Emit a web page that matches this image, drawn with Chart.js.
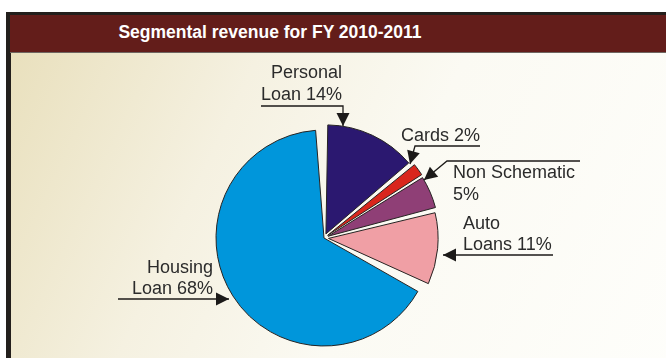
<!DOCTYPE html>
<html>
<head>
<meta charset="utf-8">
<title>Segmental revenue</title>
<script src="https://cdn.jsdelivr.net/npm/chart.js@4.4.1/dist/chart.umd.min.js"></script>
<style>
  html, body { margin: 0; padding: 0; }
  body {
    width: 666px; height: 358px; overflow: hidden; position: relative;
    background: #fff;
    font-family: "Liberation Sans", Arial, sans-serif;
  }
  .frame {
    position: absolute; left: 6px; top: 12px; width: 680px; height: 360px;
    background: #231f1c;
  }
  .title-bar {
    position: absolute; left: 10px; top: 15px; width: 680px; height: 37px;
    background: #631d1a;
    border-bottom: 1px solid #6f6661;
  }
  .title-bar span {
    position: absolute; left: 260px; top: 7px; transform: translateX(-50%);
    white-space: nowrap;
    color: #fff; font-weight: bold; font-size: 17.5px;
  }
  .panel {
    position: absolute; left: 11px; top: 53px; width: 680px; height: 320px;
    background: linear-gradient(115deg, #e9e0bd 0%, #f5f1e1 30%, #fbfaf3 55%, #fefefb 100%);
  }
  #revenueChart { position: absolute; left: 0; top: 0; }
</style>
</head>
<body>
<div class="frame"></div>
<div class="title-bar"><span>Segmental revenue for FY 2010-2011</span></div>
<div class="panel"></div>
<canvas id="revenueChart" width="666" height="358"></canvas>

<script>
// segments, clockwise from 12 o'clock
const categories = ["Personal Loan", "Cards", "Non Schematic", "Auto Loans", "Housing Loan"];
const shares = [14, 2, 5, 11, 68];
const sliceColors = ["#2b1870", "#d9261c", "#8f3f76", "#f09fa5", "#0096db"];

// label placement: where each label sits and the leader that points at its slice
const callouts = [
  { breakAt: 1, align: "right", x: 342, baselines: [78, 100], path: [[261, 106], [343, 106], [343, 126]] },
  { breakAt: 0, align: "left",  x: 401, baselines: [141],     path: [[480, 146], [415, 146], [410, 164]] },
  { breakAt: 2, align: "left",  x: 453, baselines: [178, 200], path: [[580, 161], [447, 161], [424, 180]] },
  { breakAt: 1, align: "left",  x: 463, baselines: [229, 250], path: [[553, 255], [443, 255]] },
  { breakAt: 1, align: "right", x: 213, baselines: [273, 294], path: [[118, 299], [229, 299]] }
];

function arrowHead(ctx, from, tip) {
  const dx = tip[0] - from[0], dy = tip[1] - from[1];
  const len = Math.hypot(dx, dy) || 1;
  const ux = dx / len, uy = dy / len;
  const bx = tip[0] - ux * 13, by = tip[1] - uy * 13;
  ctx.beginPath();
  ctx.moveTo(tip[0], tip[1]);
  ctx.lineTo(bx - uy * 6.5, by + ux * 6.5);
  ctx.lineTo(bx + uy * 6.5, by - ux * 6.5);
  ctx.closePath();
  ctx.fill();
}

const calloutPlugin = {
  id: "callouts",
  afterDatasetsDraw(chart) {
    const ctx = chart.ctx;
    ctx.save();
    ctx.font = '18px "Liberation Sans", Arial, sans-serif';
    ctx.textBaseline = "alphabetic";
    categories.forEach((name, i) => {
      const c = callouts[i];
      const words = name.split(" ").concat(shares[i] + "%");
      const lines = c.breakAt
        ? [words.slice(0, c.breakAt).join(" "), words.slice(c.breakAt).join(" ")]
        : [words.join(" ")];
      ctx.fillStyle = "#2b2b2b";
      ctx.textAlign = c.align;
      lines.forEach((t, k) => ctx.fillText(t, c.x, c.baselines[k]));

      ctx.strokeStyle = "#1c1a19";
      ctx.fillStyle = "#1c1a19";
      ctx.lineWidth = 1.3;
      ctx.beginPath();
      c.path.forEach(([px, py], k) => (k ? ctx.lineTo(px, py) : ctx.moveTo(px, py)));
      ctx.stroke();
      arrowHead(ctx, c.path[c.path.length - 2], c.path[c.path.length - 1]);
    });
    ctx.restore();
  }
};

new Chart(document.getElementById("revenueChart"), {
  type: "pie",
  data: {
    labels: categories,
    datasets: [{
      data: shares,
      backgroundColor: sliceColors,
      borderColor: "#262322",
      borderWidth: 1,
      spacing: 4,
      offset: [18, 18, 18, 18, 0]
    }]
  },
  options: {
    responsive: false,
    animation: false,
    radius: 106,
    layout: { padding: { left: 0, right: 18, top: 118, bottom: 0 } },
    plugins: {
      legend: { display: false },
      tooltip: { enabled: false },
      title: { display: false }
    }
  },
  plugins: [calloutPlugin]
});
</script>
</body>
</html>
